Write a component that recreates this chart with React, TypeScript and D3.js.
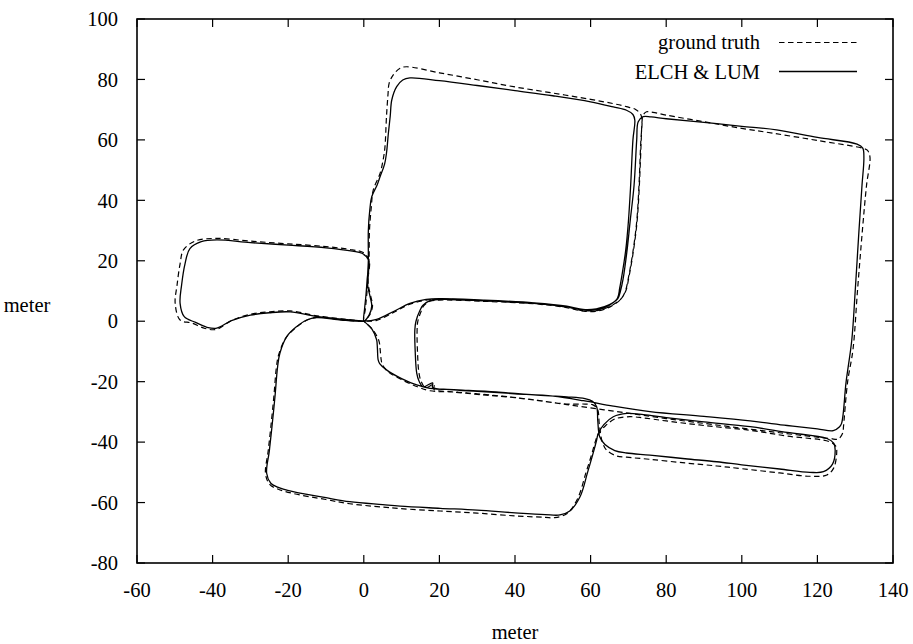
import React from "react";
import * as d3 from "d3";

type Pt = [number, number];

// Axis ticks
const xTicks = [-60, -40, -20, 0, 20, 40, 60, 80, 100, 120, 140];
const yTicks = [-80, -60, -40, -20, 0, 20, 40, 60, 80, 100];

// Series names
const seriesNames = ["ground truth", "ELCH & LUM"];

// ELCH & LUM trajectory (meters), split into three loops starting at the origin
const elchLeftLoop: Pt[] = [
  [0, 0], [-6, 0.7], [-12.5, 1.6], [-19.5, 3.1], [-25, 2.8], [-30, 2], [-35, 0.2], [-38.9, -2.3],
  [-41.5, -2], [-44.5, -0.4], [-47.5, 1.5], [-48.6, 5.9], [-48.2, 12], [-47.3, 19], [-46, 24],
  [-43, 26.3], [-38.9, 26.9], [-30, 26], [-20, 25.2], [-10, 24.3], [-3, 23.2], [-0.5, 22.5],
  [1.2, 20.3], [0.9, 14], [0.6, 9], [0.2, 4], [0, 0],
];

const elchMainLoop: Pt[] = [
  [0, 0], [1.4, 2], [2.1, 5], [1.6, 8.5], [1, 12], [1.2, 20], [1.2, 30], [1.6, 37], [2.1, 41.2],
  [3.5, 45], [4.3, 47.8], [5.5, 52], [6, 55.6], [6.5, 62.2], [7, 68], [7.4, 73.2], [8.7, 77.6],
  [10.3, 79.8], [12.2, 80.5], [20, 79.6], [30, 78], [40, 76.3], [50, 74.6], [60, 72.6], [66, 70.9],
  [69.5, 69.8], [71.2, 68.4], [71.7, 66.5], [71.2, 60], [70.6, 45], [70, 33], [69.3, 23.6],
  [68.4, 16], [67.7, 11], [67.1, 7.6], [65.1, 5.4], [62, 3.8], [58.1, 3.7], [53.7, 4.8], [45.7, 5.9],
  [31.6, 6.8], [20, 7.2], [17.5, 6.8], [15.6, 5.2], [14.9, 3.7], [13.8, 0], [13.5, -2.9],
  [13.6, -10], [14, -17.2], [14.6, -19.8], [15.7, -21.7], [18.2, -20.4], [18.2, -21.9],
  [22.8, -22.6], [30, -23.2], [40, -24], [50, -24.8], [58.1, -26.3], [66, -28.1], [75.7, -29.9],
  [90, -31.5], [102.2, -33], [112, -34.5], [120, -35.6], [124.2, -36.2], [125.8, -35],
  [126.4, -33.8], [127.6, -20], [129.1, -6.2], [130, 10], [131, 30], [131.8, 45], [132.3, 54],
  [132, 57.3], [130.5, 58.6], [120, 60.8], [109.2, 63.3], [100, 64.5], [90, 65.8], [80, 67],
  [76, 67.6], [73.9, 67.7], [72.6, 66], [72.2, 60], [71.5, 45], [70.5, 33.5], [69.6, 23], [68.6, 14],
  [67.9, 10], [67.2, 7.5], [65, 5.5], [61.5, 4.1], [58, 3.9], [53.7, 5], [45, 6.1], [31.6, 7],
  [20, 7.5], [16.5, 7.2], [12.2, 5.9], [8, 3.3], [3.4, 0.6], [0, 0],
];

const elchLowerLoop: Pt[] = [
  [0, 0], [-6, 0.4], [-12.5, 1.2], [-15.1, 0.4], [-18, -2], [-20.4, -5.1], [-22.2, -10.6],
  [-22.8, -15], [-23.5, -25], [-24.3, -35], [-25, -43], [-25.7, -50.3], [-24.6, -53.6],
  [-23, -54.8], [-18.7, -56.4], [-10, -58.4], [-3.7, -59.7], [5, -60.7], [9.6, -61.2],
  [20.2, -61.9], [30, -62.5], [40, -63.4], [48, -64], [51.9, -64.1], [54.5, -62.8], [57.2, -58.1],
  [59.2, -50], [60.6, -44], [61.6, -39.3], [62, -37.2], [63.5, -34.2], [66, -31.6], [69.6, -30.5],
  [74, -30.9], [80, -31.9], [90, -33.3], [102.2, -34.9], [112, -36.8], [122.5, -38.8],
  [124.3, -40.3], [124.7, -42.6], [124, -47.3], [121.6, -49.8], [118, -50], [110, -48.9],
  [100, -47.5], [93.4, -46.5], [85, -45.5], [75.7, -44.3], [69.5, -43.6], [66.4, -42.8],
  [63.8, -40.8], [62.4, -38.2], [61.9, -33], [61.6, -28.3], [60.5, -26.5], [58.5, -25.6],
  [53.7, -25], [45, -24.4], [35, -23.4], [25, -22.7], [17.5, -22.2], [14, -21.1], [10, -19],
  [6, -16.1], [4.2, -14], [3.8, -12.8], [3.6, -9], [3.4, -6.2], [2.2, -2.7], [0, 0],
];

// Ground truth trajectory (meters), same three loops
const truthLeftLoop: Pt[] = [
  [0, 0], [-6, 0.8], [-12.5, 1.8], [-19.5, 3.4], [-25, 3.1], [-30, 2.3], [-35, 0.2], [-39, -2.7],
  [-42, -2.4], [-45.5, -0.6], [-48.6, 0.4], [-49.9, 5.9], [-49.4, 12], [-48.6, 19], [-47.7, 23.6],
  [-44.5, 26.6], [-38.9, 27.4], [-30, 26.5], [-20, 25.6], [-10, 24.7], [-3, 23.6], [-0.3, 22.8],
  [1.4, 20.3], [1.1, 14], [0.8, 9], [0.4, 4], [0, 0],
];

const truthMainLoop: Pt[] = [
  [0, 0], [1.5, 2], [2.3, 5], [1.8, 8.5], [1.2, 12], [1.4, 20], [1.5, 30], [2, 38], [2.5, 43.4],
  [4.3, 48.9], [5.2, 54], [5.6, 57.7], [6, 67.7], [6.4, 75], [6.7, 78.7], [7.8, 81.5], [9.6, 83.7],
  [11.3, 84.2], [20, 82.2], [30, 79.9], [39.6, 77.6], [50, 75.5], [60, 73.4], [66, 72], [69.5, 71],
  [72, 70], [73.3, 68.3], [73.6, 66], [73.3, 60], [72.8, 45], [72.2, 33], [71.2, 23], [70.1, 15],
  [69.2, 10], [68, 7.3], [65.5, 5], [62, 3.4], [58.1, 3.3], [53.7, 4.5], [45.7, 5.7], [31.6, 6.6],
  [20, 7], [17.5, 6.6], [15.9, 5.2], [15.3, 3.7], [14.3, 0], [14.1, -3], [14.2, -10], [14.6, -17.2],
  [15.2, -20], [16.3, -22], [18.6, -20.8], [18.6, -22.6], [22.8, -23.3], [30, -24.2], [40, -25.3],
  [53.7, -27.6], [66.9, -29.9], [80, -32.2], [95, -34.6], [110, -36.9], [123.3, -38.8],
  [125.5, -39], [126.7, -37], [126.9, -34.9], [128, -20], [129.4, -9.5], [130.6, 10],
  [131.9, 30], [133, 45], [133.9, 54.4], [133.2, 56.6], [132.1, 57.2], [120, 59.8],
  [108.3, 62.2], [100, 63.8], [90, 66], [80, 68.2], [76.5, 69.1], [74.8, 69.3], [73.9, 68.2],
  [73.6, 66], [73.4, 60], [72.9, 45], [72.3, 33], [71.3, 23], [70.2, 15], [69.3, 10], [68.1, 7.5],
  [65.7, 5.3], [62, 3.6], [58.1, 3.5], [53.7, 4.7], [45, 5.9], [31.6, 6.8], [20, 7.3], [16.5, 7],
  [12.2, 5.6], [8, 3], [3.4, 0.3], [0, 0],
];

const truthLowerLoop: Pt[] = [
  [0, 0], [-6, 0.5], [-12.5, 1.3], [-15.1, 0.3], [-18, -2.2], [-20.6, -5.5], [-22.5, -11],
  [-23.1, -15], [-23.8, -25], [-24.6, -35], [-25.3, -43], [-26, -50.5], [-24.9, -54], [-23, -55.4],
  [-18.7, -57], [-10, -59], [-3.7, -60.4], [5, -61.5], [9.6, -62], [20.2, -62.8], [30, -63.5],
  [40, -64.4], [48, -64.9], [50.5, -65], [53.8, -63.6], [56.6, -58.6], [58.8, -50], [60.3, -44],
  [61.3, -39.6], [62, -37.4], [64, -34.5], [66.5, -32.3], [70.4, -31.6], [74, -32], [80, -33],
  [90, -34.5], [102.2, -36.1], [112, -38], [123.3, -39.9], [124.9, -41.4], [125.1, -43.7],
  [124.3, -48.6], [122.5, -50.9], [118, -51.3], [110, -50.2], [100, -48.8], [93.4, -47.9],
  [85, -46.9], [75.7, -45.7], [69.5, -45], [66.9, -44.6], [64.2, -42.6], [63, -39.5], [62.3, -34],
  [61.8, -29], [60.5, -27.6], [58.5, -27.4], [53.7, -27.4], [45, -26], [35, -24.6], [25, -23.5],
  [17.5, -23], [14.2, -21.7], [10.3, -19.5], [6.5, -16.8], [4.9, -14.3], [4.6, -12.8], [4.3, -9],
  [4, -6.5], [2.4, -2.8], [0, 0],
];

const truthPath: Pt[] = [...truthLeftLoop, ...truthMainLoop.slice(1), ...truthLowerLoop.slice(1)];
const elchPath: Pt[] = [...elchLeftLoop, ...elchMainLoop.slice(1), ...elchLowerLoop.slice(1)];

const W = 913;
const H = 644;
const left = 137;
const right = 893;
const top = 19;
const bottom = 563;
const FONT = "Liberation Serif, Times New Roman, Times, serif";
const FS = 20.5;
const DASH = "5.5,3.5";

export default function App() {
  const x = d3.scaleLinear().domain([-60, 140]).range([left, right]);
  const y = d3.scaleLinear().domain([-80, 100]).range([bottom, top]);
  const line = d3
    .line<Pt>()
    .x((d) => x(d[0]))
    .y((d) => y(d[1]))
    .curve(d3.curveCatmullRom.alpha(0.5));

  const tickLen = 8;
  const textStyle = { fontFamily: FONT, fontSize: FS };

  return (
    <svg
      width={W}
      height={H}
      style={{ position: "absolute", left: 0, top: 0, background: "#fff", fontFamily: FONT }}
    >
      <rect x={0} y={0} width={W} height={H} fill="#fff" />

      {/* trajectories */}
      <path d={line(truthPath) || ""} fill="none" stroke="#000" strokeWidth={1.2} strokeDasharray={DASH} />
      <path d={line(elchPath) || ""} fill="none" stroke="#000" strokeWidth={1.3} />

      {/* ticks on all four sides, pointing inward */}
      {xTicks.map((t) => (
        <g key={"xt" + t}>
          <line x1={x(t)} x2={x(t)} y1={bottom} y2={bottom - tickLen} stroke="#000" strokeWidth={1.2} />
          <line x1={x(t)} x2={x(t)} y1={top} y2={top + tickLen} stroke="#000" strokeWidth={1.2} />
          <text x={x(t)} y={590} dy="0.35em" textAnchor="middle" style={textStyle} fill="#000">
            {t}
          </text>
        </g>
      ))}
      {yTicks.map((t) => (
        <g key={"yt" + t}>
          <line x1={left} x2={left + tickLen} y1={y(t)} y2={y(t)} stroke="#000" strokeWidth={1.2} />
          <line x1={right} x2={right - tickLen} y1={y(t)} y2={y(t)} stroke="#000" strokeWidth={1.2} />
          <text x={118} y={y(t)} dy="0.35em" textAnchor="end" style={textStyle} fill="#000">
            {t}
          </text>
        </g>
      ))}

      {/* plot frame */}
      <rect x={left} y={top} width={right - left} height={bottom - top} fill="none" stroke="#000" strokeWidth={1.6} />

      {/* axis titles */}
      <text x={(left + right) / 2} y={632} dy="0.35em" textAnchor="middle" style={textStyle} fill="#000">
        meter
      </text>
      <text x={27} y={305} dy="0.35em" textAnchor="middle" style={textStyle} fill="#000">
        meter
      </text>

      {/* legend */}
      <text x={760} y={42} dy="0.35em" textAnchor="end" style={textStyle} fill="#000">
        {seriesNames[0]}
      </text>
      <line x1={779} x2={857} y1={42.5} y2={42.5} stroke="#000" strokeWidth={1.2} strokeDasharray={DASH} />
      <text x={760} y={72} dy="0.35em" textAnchor="end" style={textStyle} fill="#000">
        {seriesNames[1]}
      </text>
      <line x1={779} x2={857} y1={71.5} y2={71.5} stroke="#000" strokeWidth={1.3} />
    </svg>
  );
}
